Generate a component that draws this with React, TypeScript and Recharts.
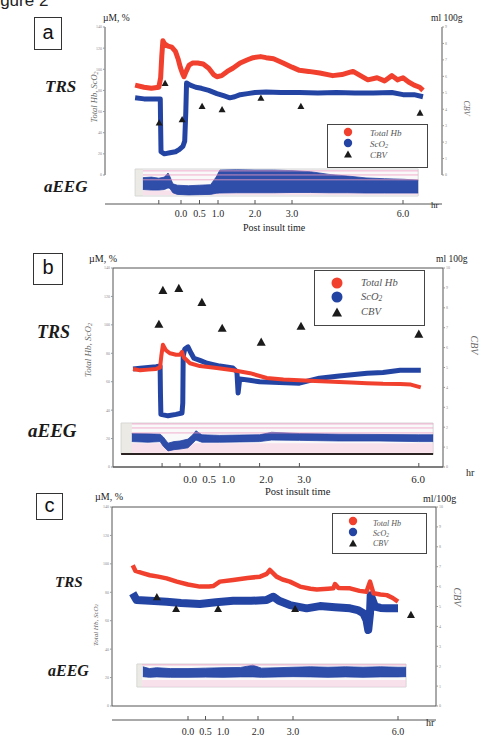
import React from "react";
import { ComposedChart, Line, Area, Scatter, XAxis, YAxis, ReferenceArea, ReferenceLine } from "recharts";

const RED = "#f1412e";
const BLUE = "#2444a4";
const SERIF = '"Liberation Serif", "DejaVu Serif", serif';
const SANS = '"Liberation Sans", "DejaVu Sans", sans-serif';
const PAGE_W = 487;
const AXIS_W = 14;

// axis ticks
const hbTicks = [0, 20, 40, 60, 80, 100, 120, 140];
const cbvTicks9 = [0, 1, 2, 3, 4, 5, 6, 7, 8, 9];
const cbvTicks10 = [0, 1, 2, 3, 4, 5, 6, 7, 8, 9, 10];
const timeTicks = [0, 0.5, 1, 2, 3, 6];
const timeTicksA = [-0.6, 0, 0.5, 1, 2, 3, 6];
const timeTicksB = [-0.45, 0, 0.5, 1, 2, 3, 6];

// ----- (a) -----
const aHbTime = [-1.24, -1.0, -0.8, -0.6, -0.55, -0.52, -0.49, -0.44, -0.35, -0.25, -0.15, -0.08, -0.02, 0.04, 0.08, 0.14, 0.22, 0.32, 0.45, 0.6, 0.75, 0.88, 0.97, 1.1, 1.25, 1.4, 1.6, 1.8, 1.95, 2.15, 2.3, 2.5, 2.76, 3.0, 3.2, 3.45, 3.75, 4.1, 4.35, 4.55, 4.65, 4.85, 5.05, 5.3, 5.5, 5.7, 5.85, 6.0, 6.15, 6.3, 6.45, 6.54];
const aHb = [85, 83, 82, 83, 92, 112, 127, 124, 122, 121, 117, 110, 102, 96, 93, 98, 104, 106, 106, 105, 101, 95, 93, 94, 98, 101, 106, 109, 111, 112, 111, 110, 106, 102, 99, 98, 96.5, 94, 95, 97, 98, 94, 90, 92, 89, 94, 90, 92, 88, 85, 83, 80];
const aScoTime = [-1.24, -1.0, -0.8, -0.56, -0.55, -0.54, -0.45, -0.3, -0.15, -0.05, 0.05, 0.1, 0.13, 0.15, 0.25, 0.4, 0.55, 0.75, 0.97, 1.15, 1.32, 1.45, 1.6, 1.8, 2.0, 2.3, 2.7, 3.2, 3.7, 4.2, 4.7, 5.2, 5.7, 6.0, 6.3, 6.54];
const aSco = [73, 72, 72, 72, 45, 22, 20, 21, 22, 24, 27, 32, 60, 87, 85, 83, 82, 80, 77, 75, 73, 74, 76, 77, 78, 78.5, 78, 78, 77.5, 78, 77.5, 77.5, 78, 76, 76, 74];
const aCbvTime = [-0.59, -0.43, 0.03, 0.57, 1.11, 2.16, 3.24, 6.46];
const aCbv = [3.2, 5.6, 3.4, 4.2, 4.0, 4.7, 4.2, 3.8];
const aEegTime = [-1.03, -0.8, -0.6, -0.45, -0.35, -0.3, -0.22, -0.1, 0.2, 0.5, 0.8, 0.95, 1.05, 1.5, 2.0, 2.5, 3.0, 3.5, 4.0, 4.5, 5.0, 5.5, 6.0, 6.41];
const aEegLo = [24, 22, 22, 24, 30, 28, 12, 6, 4, 5, 6, 10, 11, 12, 12, 12, 13, 13, 12, 12, 11, 11, 11, 11];
const aEegHi = [68, 70, 66, 70, 85, 72, 45, 40, 38, 40, 42, 70, 96, 97, 96, 96, 94, 90, 80, 74, 67, 64, 62, 59];

// ----- (b) -----
const bHbTime = [-1.18, -1.0, -0.8, -0.6, -0.5, -0.47, -0.43, -0.35, -0.25, -0.1, 0.0, 0.05, 0.1, 0.25, 0.5, 0.92, 1.34, 1.76, 2.18, 2.6, 3.0, 3.4, 3.85, 4.3, 4.7, 5.1, 5.53, 5.8, 6.05];
const bHb = [69, 68, 68.5, 69, 70, 78, 86, 82, 80, 79, 79, 81, 77, 73, 71, 69.6, 68, 66, 62.6, 61.5, 61, 60.5, 60, 59.5, 59, 58.5, 58.4, 58, 56];
const bScoTime = [-1.18, -1.0, -0.8, -0.6, -0.5, -0.49, -0.48, -0.3, -0.1, 0.05, 0.07, 0.08, 0.12, 0.2, 0.28, 0.35, 0.5, 0.68, 1.0, 1.33, 1.43, 1.46, 1.5, 1.75, 2.0, 2.5, 3.0, 3.5, 4.0, 4.7, 5.1, 5.53, 6.05];
const bSco = [69, 69.5, 70, 70.5, 71, 50, 37, 36, 37, 38, 45, 78, 83, 84.5, 80, 76.5, 75, 73, 71, 69.6, 67, 52, 62, 61, 60, 59.5, 59, 62.5, 64, 66, 66.5, 68, 68];
const bCbvTime = [-0.53, -0.43, -0.03, 0.55, 1.06, 2.04, 3.04, 6.0];
const bCbv = [7.2, 8.9, 9.0, 8.3, 7.0, 6.3, 7.1, 6.7];
const bEegTime = [-1.21, -0.8, -0.5, -0.42, -0.3, -0.15, 0.0, 0.2, 0.32, 0.4, 0.55, 1.0, 1.5, 2.0, 2.3, 3.0, 4.0, 5.0, 6.0, 6.36];
const bEegLo = [40, 38, 40, 25, 10, 14, 16, 20, 35, 45, 38, 38, 39, 40, 45, 44, 42, 42, 40, 40];
const bEegHi = [66, 65, 64, 55, 35, 40, 42, 48, 62, 75, 62, 60, 61, 62, 70, 66, 64, 63, 62, 62];

// ----- (c) -----
const cHbTime = [-1.58, -1.5, -1.3, -1.09, -0.85, -0.61, -0.32, 0.0, 0.34, 0.6, 0.72, 0.91, 1.29, 1.7, 2.06, 2.25, 2.34, 2.45, 2.53, 2.7, 2.91, 3.2, 3.5, 3.68, 4.0, 4.15, 4.2, 4.3, 4.63, 4.9, 5.1, 5.2, 5.3, 5.5, 5.68, 5.85, 6.0];
const cHb = [99, 95, 93.5, 92, 91, 89.8, 87.5, 85.5, 84, 84, 84.4, 87.5, 88.6, 90, 91, 93, 95.7, 93, 91, 89, 87.5, 84, 82.5, 82, 82.5, 82.8, 85.8, 83, 82.8, 81, 80.4, 87.5, 79.3, 78.5, 78, 76, 73.4];
const cScoTime = [-1.58, -1.47, -1.09, -0.61, -0.2, 0.34, 0.8, 1.29, 1.8, 2.25, 2.44, 2.6, 2.91, 3.39, 3.77, 4.2, 4.63, 4.85, 5.01, 5.1, 5.15, 5.2, 5.22, 5.34, 5.5, 5.68, 6.0];
const cSco = [79.3, 74.6, 74, 73.4, 72.5, 71.8, 73, 74, 74, 74.6, 76.9, 74, 71, 68.7, 70.3, 69.5, 68.7, 67.5, 65.2, 60.5, 53.5, 65.2, 78, 70, 69, 68.7, 68.7];
const cCbvTime = [-0.89, -0.34, 0.86, 3.06, 6.37];
const cCbv = [5.5, 4.9, 4.9, 4.9, 4.6];
const cEegTime = [-1.29, -1.1, -0.9, -0.5, 0.0, 0.5, 1.0, 1.5, 1.85, 2.1, 2.6, 3.0, 3.5, 4.0, 4.5, 5.0, 5.5, 6.0, 6.23];
const cEegLo = [45, 42, 44, 42, 42, 43, 42, 44, 44, 42, 44, 45, 44, 42, 44, 42, 44, 44, 45];
const cEegHi = [88, 80, 84, 80, 80, 82, 84, 85, 95, 82, 84, 86, 88, 86, 88, 86, 88, 86, 86];

type Pt = { t: number; v: number };
type Band = { t: number; band: [number, number] };

const series = (t: number[], v: number[]): Pt[] => t.map((x, i) => ({ t: x, v: v[i] }));
const bands = (t: number[], lo: number[], hi: number[]): Band[] => t.map((x, i) => ({ t: x, band: [lo[i], hi[i]] }));

// value range covered by pixels p0..p1, when pixel at0 shows 0 and pixel atRef shows ref
function span(p0: number, p1: number, at0: number, atRef: number, ref: number): [number, number] {
  const k = (atRef - at0) / ref;
  return [(p0 - at0) / k, (p1 - at0) / k];
}

function triangle(size: number) {
  return (props: any) => {
    const { cx, cy } = props;
    if (cx == null || cy == null) return <g />;
    const h = size * 0.9;
    return (
      <polygon
        points={`${cx},${cy - h / 2} ${cx - size / 2},${cy + h / 2} ${cx + size / 2},${cy + h / 2}`}
        fill="#1b1b1b"
      />
    );
  };
}

type Strip = { top: number; bottom: number; from: number; data: number; to: number; lines: number[]; pink: [number, number]; base?: boolean };

type PanelProps = {
  top: number;
  height: number;
  plot: { l: number; r: number; t: number; b: number };
  hr0: number;
  hrPx: number;
  label?: { hr0: number; hrPx: number; margin: number };
  zeroY: number;
  maxY: number;
  rightMax: number;
  rightTicks: number[];
  frame: "box" | "sides";
  strip: Strip;
  xTicks: number[];
  tickMargin: number;
  tickFont: number;
  hb: Pt[];
  sco2: Pt[];
  cbv: Pt[];
  eeg: Band[];
  hbW: number;
  scoW: number;
  tri: number;
};

function Panel(p: PanelProps) {
  const { plot, strip } = p;
  const leftMax = 140;
  const xDom = span(plot.l, plot.r, p.hr0, p.hr0 + 6 * p.hrPx, 6);
  const lDom = span(plot.b, plot.t, p.zeroY, p.maxY, leftMax);
  const rDom = span(plot.b, plot.t, p.zeroY, p.maxY, p.rightMax);
  const eDom = span(plot.b, plot.t, strip.bottom, strip.top, 100);
  const xh = p.label ? 1 : 20;
  const margin = {
    top: plot.t - p.top,
    left: plot.l - AXIS_W,
    right: PAGE_W - plot.r - AXIS_W,
    bottom: p.top + p.height - plot.b - xh - (p.label ? 20 : 0),
  };
  const fmt = (v: number) => (v < 0 ? "" : v.toFixed(1));
  const tick = { fontSize: p.tickFont, fill: "#2a2a2a", fontFamily: SERIF };
  const tiny = { fontSize: 4, fill: "#8a8a8a" };

  return (
    <ComposedChart
      width={PAGE_W}
      height={p.height}
      margin={margin}
      style={{ position: "absolute", left: 0, top: p.top }}
    >
      <XAxis
        type="number"
        dataKey="t"
        domain={xDom}
        allowDataOverflow
        ticks={p.xTicks}
        height={xh}
        tickSize={-4}
        tickMargin={p.tickMargin}
        tickFormatter={p.label ? () => "" : fmt}
        tick={tick}
        stroke="#555"
        interval={0}
      />
      {p.label && (
        <XAxis
          xAxisId="lbl"
          type="number"
          dataKey="t"
          domain={span(plot.l, plot.r, p.label.hr0, p.label.hr0 + 6 * p.label.hrPx, 6)}
          allowDataOverflow
          ticks={timeTicks}
          height={20}
          axisLine={false}
          tickLine={false}
          tickSize={0}
          tickMargin={p.label.margin}
          tickFormatter={fmt}
          tick={tick}
          interval={0}
        />
      )}
      <YAxis
        type="number"
        domain={lDom}
        allowDataOverflow
        ticks={hbTicks}
        width={AXIS_W}
        axisLine={false}
        tickSize={2}
        tickMargin={1}
        tick={tiny}
        stroke="#999"
        interval={0}
      />
      <YAxis
        yAxisId="r"
        orientation="right"
        type="number"
        domain={rDom}
        allowDataOverflow
        ticks={p.rightTicks}
        width={AXIS_W}
        axisLine={false}
        tickSize={2}
        tickMargin={1}
        tick={tiny}
        stroke="#999"
        interval={0}
      />
      <YAxis yAxisId="e" hide type="number" domain={eDom} allowDataOverflow />

      {p.frame === "box" ? (
        <ReferenceArea x1={xDom[0]} x2={xDom[1]} y1={0} y2={leftMax} fill="none" stroke="#555" strokeWidth={1} ifOverflow="visible" />
      ) : (
        [xDom[0], xDom[1]].map((x) => (
          <ReferenceLine key={x} segment={[{ x, y: 0 }, { x, y: leftMax }]} stroke="#555" ifOverflow="visible" />
        ))
      )}

      {/* aEEG inset */}
      <ReferenceArea yAxisId="e" x1={strip.from} x2={strip.to} y1={0} y2={100} fill="#f5f3f4" stroke="#d6d6d6" ifOverflow="visible" />
      <ReferenceArea yAxisId="e" x1={strip.from} x2={strip.data} y1={0} y2={100} fill="#dcdbd0" stroke="none" ifOverflow="visible" />
      <ReferenceArea yAxisId="e" x1={strip.data} x2={strip.to} y1={strip.pink[0]} y2={strip.pink[1]} fill="#f7cadf" stroke="none" ifOverflow="visible" />
      {strip.lines.map((v) => (
        <ReferenceLine key={v} yAxisId="e" segment={[{ x: strip.data, y: v }, { x: strip.to, y: v }]} stroke="#ee9cc2" strokeWidth={0.8} ifOverflow="visible" />
      ))}
      {strip.base && (
        <ReferenceLine yAxisId="e" segment={[{ x: strip.from, y: 0 }, { x: strip.to, y: 0 }]} stroke="#2b2222" strokeWidth={2} ifOverflow="visible" />
      )}
      <Area
        yAxisId="e"
        data={p.eeg}
        dataKey="band"
        type="linear"
        stroke={BLUE}
        strokeWidth={0.8}
        fill={BLUE}
        fillOpacity={0.95}
        dot={false}
        activeDot={false}
        isAnimationActive={false}
      />

      <Line data={p.sco2} dataKey="v" type="linear" stroke={BLUE} strokeWidth={p.scoW} strokeLinejoin="round" dot={false} activeDot={false} isAnimationActive={false} />
      <Line data={p.hb} dataKey="v" type="linear" stroke={RED} strokeWidth={p.hbW} strokeLinejoin="round" dot={false} activeDot={false} isAnimationActive={false} />
      <Scatter yAxisId="r" data={p.cbv} dataKey="v" shape={triangle(p.tri)} isAnimationActive={false} />
    </ComposedChart>
  );
}

function Txt({ x, y, size, children, style }: any) {
  return (
    <div style={{ position: "absolute", left: x, top: y, fontSize: size, lineHeight: 1, whiteSpace: "nowrap", fontFamily: SERIF, color: "#222", ...style }}>
      {children}
    </div>
  );
}

function Rot({ cx, cy, angle, size, children }: any) {
  return (
    <div
      style={{
        position: "absolute",
        left: cx,
        top: cy,
        transform: `translate(-50%, -50%) rotate(${angle}deg)`,
        fontSize: size,
        lineHeight: 1,
        whiteSpace: "nowrap",
        fontFamily: SERIF,
        fontStyle: "italic",
        color: "#6a6a6a",
      }}
    >
      {children}
    </div>
  );
}

function Tag({ x, y, w, h, label }: any) {
  return (
    <div
      style={{
        position: "absolute",
        left: x,
        top: y,
        width: w,
        height: h,
        border: "1.5px solid #333",
        boxSizing: "border-box",
        display: "flex",
        alignItems: "center",
        justifyContent: "center",
        fontFamily: SANS,
        fontSize: 20,
        color: "#111",
        paddingBottom: 3,
      }}
    >
      {label}
    </div>
  );
}

const Sco = () => (
  <>
    ScO<span style={{ fontSize: "0.7em", verticalAlign: "-0.2em", lineHeight: 0 }}>2</span>
  </>
);

function Key({ box, mx, my, tx, ty, fs, r, tri }: any) {
  const [x, y, w, h] = box;
  const labels = [<>Total Hb</>, <Sco />, <>CBV</>];
  return (
    <>
      <div style={{ position: "absolute", left: x, top: y, width: w, height: h, border: "1.5px solid #454545", boxSizing: "border-box" }} />
      <svg style={{ position: "absolute", left: 0, top: 0 }} width={PAGE_W} height={744}>
        <circle cx={mx} cy={my[0]} r={r} fill={RED} />
        <circle cx={mx} cy={my[1]} r={r} fill={BLUE} />
        <polygon
          points={`${mx},${my[2] - tri * 0.45} ${mx - tri / 2},${my[2] + tri * 0.45} ${mx + tri / 2},${my[2] + tri * 0.45}`}
          fill="#1b1b1b"
        />
      </svg>
      {labels.map((l, i) => (
        <Txt key={i} x={tx} y={ty[i] - fs * 0.89} size={fs} style={{ fontStyle: "italic", color: "#555" }}>
          {l}
        </Txt>
      ))}
    </>
  );
}

const bold = { fontWeight: 700, fontStyle: "italic", color: "#1a1a1a" };

export default function App() {
  return (
    <div style={{ position: "absolute", left: 0, top: 0, width: PAGE_W, height: 744, overflow: "hidden", background: "#fff" }}>
      <Txt x={-14} y={-8} size={17} style={{ fontFamily: SANS, color: "#222" }}>Figure 2</Txt>

      {/* (a) */}
      <Panel
        top={0}
        height={240}
        plot={{ l: 105, r: 442, t: 27, b: 204 }}
        hr0={181}
        hrPx={37}
        zeroY={175}
        maxY={27}
        rightMax={9}
        rightTicks={cbvTicks9}
        frame="sides"
        strip={{ top: 169, bottom: 196, from: -1.24, data: -1.03, to: 6.41, lines: [93, 78, 60], pink: [4, 20] }}
        xTicks={timeTicksA}
        tickMargin={9.5}
        tickFont={10}
        hb={series(aHbTime, aHb)}
        sco2={series(aScoTime, aSco)}
        cbv={series(aCbvTime, aCbv)}
        eeg={bands(aEegTime, aEegLo, aEegHi)}
        hbW={5}
        scoW={5}
        tri={7}
      />
      <Tag x={34} y={17} w={28} h={33} label="a" />
      <Txt x={103} y={14} size={9.5}>µM, %</Txt>
      <Txt x={431} y={14} size={9.5}>ml 100g</Txt>
      <Txt x={45} y={78} size={17} style={bold}>TRS</Txt>
      <Txt x={44} y={178} size={17} style={bold}>aEEG</Txt>
      <Rot cx={94} cy={97} angle={-90} size={8.5}>Total Hb, <Sco /></Rot>
      <Rot cx={466} cy={108} angle={90} size={8}>CBV</Rot>
      <Key box={[327, 124, 101, 44]} mx={348} my={[132, 143, 154]} tx={370} ty={[137, 148, 159]} fs={9} r={4.2} tri={8} />
      <Txt x={243} y={223} size={10}>Post insult time</Txt>
      <Txt x={431} y={201} size={9}>hr</Txt>

      {/* (b) */}
      <Panel
        top={240}
        height={260}
        plot={{ l: 113, r: 443, t: 268, b: 467 }}
        hr0={180}
        hrPx={39.8}
        label={{ hr0: 190, hrPx: 38, margin: 7.5 }}
        zeroY={467}
        maxY={268}
        rightMax={10}
        rightTicks={cbvTicks10}
        frame="box"
        strip={{ top: 423, bottom: 454, from: -1.48, data: -1.21, to: 6.36, lines: [97, 84, 68], pink: [4, 35], base: true }}
        xTicks={timeTicksB}
        tickMargin={0}
        tickFont={11}
        hb={series(bHbTime, bHb)}
        sco2={series(bScoTime, bSco)}
        cbv={series(bCbvTime, bCbv)}
        eeg={bands(bEegTime, bEegLo, bEegHi)}
        hbW={4}
        scoW={5}
        tri={9}
      />
      <Tag x={33} y={253} w={30} h={32} label="b" />
      <Txt x={89} y={254} size={10}>µM, %</Txt>
      <Txt x={436} y={255} size={9.5}>ml 100g</Txt>
      <Txt x={37} y={323} size={18} style={bold}>TRS</Txt>
      <Txt x={28} y={421} size={19} style={bold}>aEEG</Txt>
      <Rot cx={88} cy={350} angle={-90} size={9}>Total Hb, <Sco /></Rot>
      <Rot cx={474} cy={345} angle={90} size={10}>CBV</Rot>
      <Key box={[314, 270, 111, 56]} mx={337} my={[283, 297, 312]} tx={361} ty={[287, 301, 316]} fs={10.5} r={5.5} tri={10} />
      <Txt x={466} y={468} size={10}>hr</Txt>
      <Txt x={265} y={487} size={10.5}>Post insult time</Txt>

      {/* (c) */}
      <Panel
        top={480}
        height={264}
        plot={{ l: 112, r: 436, t: 507, b: 720 }}
        hr0={188}
        hrPx={35}
        zeroY={706}
        maxY={507}
        rightMax={10}
        rightTicks={cbvTicks10}
        frame="box"
        strip={{ top: 664, bottom: 687, from: -1.46, data: -1.31, to: 6.23, lines: [96], pink: [0, 30] }}
        xTicks={timeTicks}
        tickMargin={11.5}
        tickFont={10}
        hb={series(cHbTime, cHb)}
        sco2={series(cScoTime, cSco)}
        cbv={series(cCbvTime, cCbv)}
        eeg={bands(cEegTime, cEegLo, cEegHi)}
        hbW={4.5}
        scoW={8}
        tri={8}
      />
      <Tag x={36} y={493} w={27} h={27} label="c" />
      <Txt x={95} y={492} size={10}>µM, %</Txt>
      <Txt x={423} y={494} size={10}>ml/100g</Txt>
      <Txt x={55} y={575} size={15} style={bold}>TRS</Txt>
      <Txt x={48} y={663} size={16} style={bold}>aEEG</Txt>
      <Rot cx={96} cy={625} angle={-90} size={7}>Total Hb, <Sco /></Rot>
      <Rot cx={457} cy={597} angle={90} size={10}>CBV</Rot>
      <Key box={[332, 513, 95, 41]} mx={353} my={[521, 532, 543]} tx={373} ty={[527, 537, 547]} fs={8} r={4.2} tri={8} />
      <Txt x={426} y={718} size={10}>hr</Txt>
    </div>
  );
}
